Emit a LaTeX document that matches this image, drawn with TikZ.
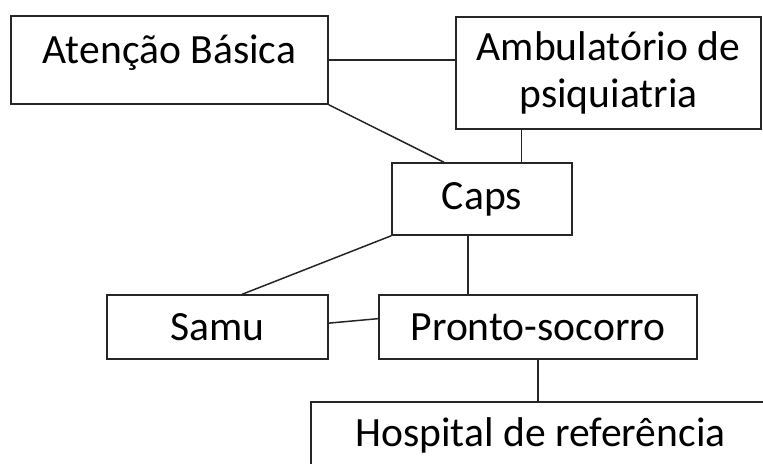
\documentclass[tikz,border=0pt]{standalone}
\usepackage{fontspec}
\setmainfont{Carlito}
\usetikzlibrary{positioning}

\begin{document}
\begin{tikzpicture}[x=0.5pt, y=-0.5pt, line width=0.75pt, black!85, box node/.style={rectangle,draw,inner sep=0pt,align=center,text=black}]%px units
\clip (0,0) rectangle (763,463);
\useasboundingbox (0,0) rectangle (763,463);
\begin{scope}[every node/.style={font=\fontsize{20.8}{23.5}\selectfont}]
\node[box node, minimum width=158.5pt, minimum height=44pt] (basica) at (169.5,60) {\raisebox{3.5pt}[\height][\depth]{Atenção Básica}};
\node[box node, minimum width=152.5pt, minimum height=56pt] (ambul) at (608.5,73) {Ambulatório de\\psiquiatria};
\node[box node, minimum width=90pt, minimum height=36pt] (caps) at (482,199) {Caps};
\node[box node, minimum width=110.5pt, minimum height=32pt] (samu) at (217.5,327) {Samu};
\node[box node, minimum width=159pt, minimum height=32pt] (pronto) at (538,327) {Pronto-socorro};
\node[box node, minimum width=229.5pt, minimum height=33pt] (hosp) at (540.5,435) {Hospital de referência};
\end{scope}
\begin{scope}
\draw (basica.east) edge (basica.east -| ambul.west);
\draw (basica.south east) edge (caps.136);
\draw (caps.43) edge (caps.43 |- ambul.south);
\draw (caps.south west) edge (samu.53);
\draw ([xshift=-7pt]caps.south) edge ([xshift=-7pt]caps.south |- pronto.north);
\draw (samu.2) edge (pronto.177);
\draw (pronto.south) edge (pronto.south |- hosp.north);
\end{scope}
\end{tikzpicture}
\end{document}
